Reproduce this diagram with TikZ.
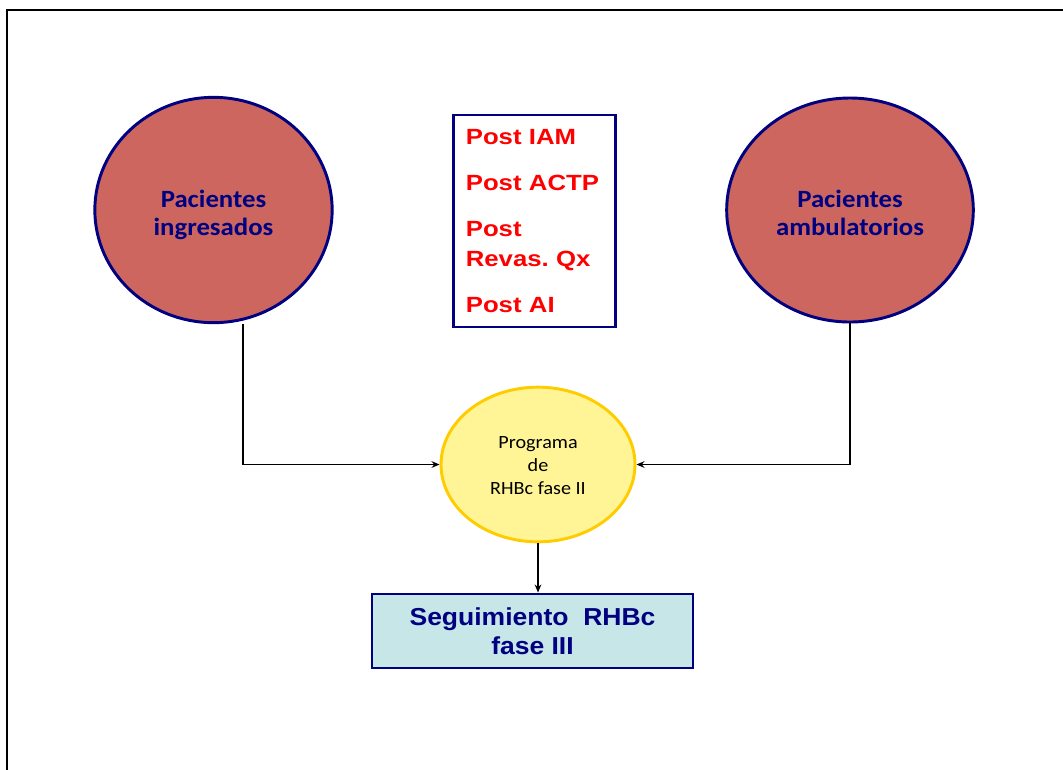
\documentclass[tikz,border=0pt]{standalone}
\usepackage{fontspec}
\setmainfont[FakeStretch=1.08]{Carlito}
\newfontfamily\arialfont[FakeStretch=1.08]{Liberation Sans}
\newfontfamily\postfont[FakeStretch=1.17]{Liberation Sans}
\frenchspacing
\usetikzlibrary{shapes.geometric,arrows.meta}
\definecolor{rojizo}{RGB}{205,102,94}
\definecolor{marino}{RGB}{0,0,128}
\definecolor{amarillo}{RGB}{255,245,150}
\definecolor{oro}{RGB}{255,204,0}
\definecolor{celeste}{RGB}{198,230,232}
\begin{document}
\begin{tikzpicture}[x=0.75pt, y=-0.75pt, >={Stealth[length=6pt, width=5pt]},
	paciente/.style={ellipse, draw=marino, line width=2.2pt, fill=rojizo, inner sep=0pt,
		align=center, text=marino, text height=42.5pt, text depth=5pt,
		font=\fontsize{18.6}{21}\selectfont\bfseries},
	flecha/.style={->, line width=1.2pt}]
	\useasboundingbox (0,0) rectangle (1063,769);
	\clip (0,0) rectangle (1063,769);
	\draw[line width=1.5pt] (7,790) |- (1080,10);
	\node[paciente, minimum width=178pt, minimum height=169pt] (ingresados) at (213.5,210) {Pacientes\\ingresados};
	\node[paciente, minimum width=185pt, minimum height=168pt] (ambulatorios) at (850,210) {Pacientes\\ambulatorios};
	\node[draw=marino, line width=2.2pt, fill=white, inner xsep=9pt, text width=103pt, minimum height=159pt,
		align=left, text=red, font=\postfont\fontsize{16.5}{22.5}\selectfont\bfseries] (postbox) at (534.5,221)
		{Post IAM\\[12pt]Post ACTP\\[12pt]Post\\Revas. Qx\\[12pt]Post AI};
	\node[ellipse, draw=oro, line width=2.2pt, fill=amarillo, inner sep=0pt, minimum width=145.5pt, minimum height=116pt,
		align=center, text height=49.25pt, text depth=5pt,
		font=\fontsize{14}{16.9}\selectfont] (programa) at (538,464.5) {Programa\\de\\RHBc fase II};
	\node[draw=marino, line width=2.2pt, fill=celeste, minimum width=240.75pt, minimum height=55.5pt,
		align=center, text=marino, font=\arialfont\fontsize{18.4}{21.75}\selectfont\bfseries] (seguimiento) at (532.5,631)
		{Seguimiento\ \ RHBc\\fase III};
	\draw[flecha] ([xshift=22pt]ingresados.south) |- (programa.west);
	\draw[flecha] (ambulatorios.south) |- (programa.east);
	\draw[flecha] (programa.south) -- (programa.south |- seguimiento.north);
\end{tikzpicture}
\end{document}
